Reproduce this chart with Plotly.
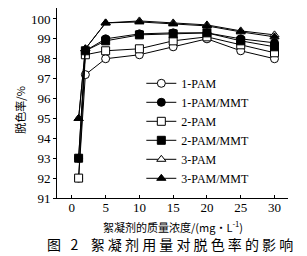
import plotly.graph_objects as go

x = [1, 2, 5, 10, 15, 20, 25, 30]
names = ["1-PAM", "1-PAM/MMT", "2-PAM", "2-PAM/MMT", "3-PAM", "3-PAM/MMT"]
pam1 = [92.0, 97.2, 98.0, 98.2, 98.6, 99.0, 98.4, 98.0]
pam1_mmt = [93.0, 98.4, 99.0, 99.25, 99.3, 99.3, 99.0, 98.8]
pam2 = [92.0, 98.2, 98.4, 98.5, 98.9, 99.1, 98.7, 98.3]
pam2_mmt = [93.0, 98.4, 98.9, 99.2, 99.25, 99.3, 98.9, 98.6]
pam3 = [95.0, 98.5, 99.8, 99.9, 99.8, 99.7, 99.4, 99.2]
pam3_mmt = [95.0, 98.5, 99.8, 99.85, 99.75, 99.65, 99.35, 99.1]
series = [pam1, pam1_mmt, pam2, pam2_mmt, pam3, pam3_mmt]
symbols = ["circle", "circle", "square", "square", "triangle-up", "triangle-up"]
fills = ["white", "black", "white", "black", "white", "black"]
xticks = [0, 5, 10, 15, 20, 25, 30]
yticks = [91, 92, 93, 94, 95, 96, 97, 98, 99, 100]

serif = "Liberation Serif, Times New Roman, serif"
cjk = "Noto Sans CJK SC"
nb = "\u00a0"

fig = go.Figure()
for n, s, sym, fc in zip(names, series, symbols, fills):
    fig.add_trace(go.Scatter(
        x=x, y=s, name=n, mode="lines+markers",
        line=dict(color="black", width=1),
        marker=dict(symbol=sym, size=8, color=fc, line=dict(color="black", width=1)),
    ))

caption = "图" + nb * 3 + "2" + nb * 4 + nb.join("絮凝剂用量对脱色率的影响")

fig.update_layout(
    width=307, height=256,
    margin=dict(l=57, r=19, t=8, b=58),
    paper_bgcolor="white", plot_bgcolor="white",
    font=dict(family=serif, size=13, color="black"),
    showlegend=True,
    legend=dict(x=0.365, y=0.68, xanchor="left", yanchor="top",
                bgcolor="rgba(0,0,0,0)", font=dict(family=serif, size=12),
                itemwidth=30, tracegroupgap=0),
    xaxis=dict(range=[-2.2, 32], tickvals=xticks, showline=True, linecolor="black",
               linewidth=1, ticks="inside", ticklen=3, tickcolor="black",
               ticklabelstandoff=-3,
               showgrid=False, zeroline=False, tickfont=dict(family=serif, size=13)),
    yaxis=dict(range=[91, 100.55], tickvals=yticks, showline=True, linecolor="black",
               linewidth=1, ticks="outside", ticklen=3, tickcolor="black",
               showgrid=False, zeroline=False, tickfont=dict(family=serif, size=13)),
    annotations=[
        dict(text="脱色率/%", textangle=-90, x=-0.16, y=0.46, xref="paper", yref="paper",
             xanchor="center", yanchor="middle",
             showarrow=False, font=dict(family=cjk, size=11)),
        dict(text="絮凝剂的质量浓度/(mg·L<sup>-1</sup>)", x=0.50, y=-0.15, xref="paper", yref="paper",
             xanchor="center", yanchor="middle",
             showarrow=False, font=dict(family=cjk, size=11)),
        dict(text=caption, x=0.49, y=-0.24, xref="paper", yref="paper",
             xanchor="center", yanchor="middle",
             showarrow=False, font=dict(family=cjk, size=14)),
    ],
)
fig.write_html("out.html")
